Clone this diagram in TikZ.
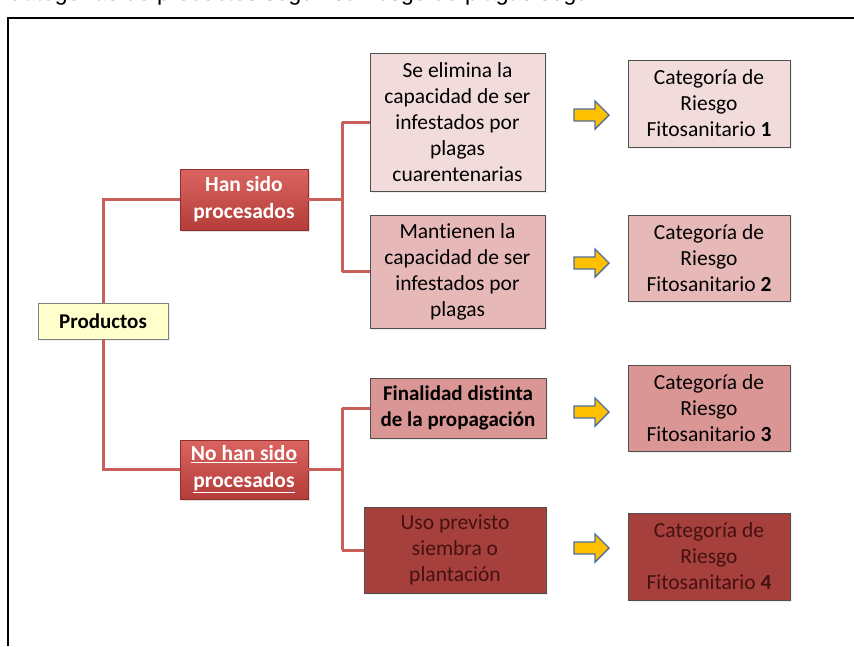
\documentclass[tikz,border=0pt]{standalone}
\usepackage{fontspec}
\setmainfont[Ligatures={NoCommon}]{Carlito}
\newfontfamily\arialfont{Liberation Sans}
\usetikzlibrary{shadows}
\definecolor{linkred}{HTML}{C95E5B}
\definecolor{pinkA}{HTML}{F2DCDB}
\definecolor{pinkB}{HTML}{E6B9B8}
\definecolor{pinkC}{HTML}{D99694}
\definecolor{redD}{HTML}{A6403D}
\definecolor{darktxt}{HTML}{451110}
\definecolor{boxborder}{HTML}{505050}
\definecolor{prodfill}{HTML}{FFFFCC}
\definecolor{redtop}{HTML}{DA6560}
\definecolor{redbot}{HTML}{B43C39}
\definecolor{arrowfill}{HTML}{FFC000}
\definecolor{arrowdraw}{HTML}{4F6E9A}
\tikzset{
  box/.style={draw=boxborder, line width=0.9pt, align=center, inner sep=1pt,
    font=\fontsize{21.5}{26}\selectfont, drop shadow={opacity=0.12, shadow xshift=2pt, shadow yshift=-2pt}},
  redbox/.style={draw=redbot!80!black, line width=0.6pt, top color=redtop, bottom color=redbot,
    text=white, align=center, font=\bfseries\fontsize{21.5}{27}\selectfont, inner sep=1pt,
    minimum width=128pt, drop shadow={opacity=0.25, shadow xshift=2pt, shadow yshift=-2pt}},
  link/.style={draw=linkred, line width=3pt},
  fatarrow/.pic={\draw[fill=arrowfill, draw=arrowdraw, line width=1.4pt, line join=miter]
    (-17,-6) -- (4,-6) -- (4,-14) -- (18,0) -- (4,14) -- (4,6) -- (-17,6) -- cycle;}
}
\begin{document}
\begin{tikzpicture}[x=1pt,y=-1pt]
\useasboundingbox (0,0) rectangle (854,646);
% title line, cut by the top edge
\node[anchor=base west, inner sep=0pt, font=\arialfont\fontsize{23}{23}\selectfont] (title) at (6,0)
  {Categorías de productos según su riesgo de plagas según};
% frame
\draw[line width=2pt] (8,646) -- (8,18) -- (854,18);

% nodes
\node[box, fill=prodfill, draw=gray, font=\bfseries\fontsize{21}{24}\selectfont,
  minimum width=130pt, minimum height=36pt] (prod) at (103,321) {Productos};
\node[redbox, minimum height=61pt] (han) at (244,199.5) {Han sido\\procesados};
\node[redbox, minimum height=59pt] (nohan) at (244,469.5) {\underline{No han sido}\\\underline{procesados}};

\node[box, fill=pinkA, minimum width=175pt, minimum height=138pt] (b1) at (457.5,122)
  {Se elimina la\\capacidad de ser\\infestados por\\plagas\\cuarentenarias};
\node[box, fill=pinkB, minimum width=175pt, minimum height=113pt] (b2) at (457.5,271.5)
  {Mantienen la\\capacidad de ser\\infestados por\\plagas};
\node[box, fill=pinkC, minimum width=176pt, minimum height=60pt, font=\bfseries\fontsize{21}{26}\selectfont] (b3) at (458,408)
  {Finalidad distinta\\de la propagación};
\node[box, fill=redD, text=darktxt, minimum width=182pt, minimum height=86pt] (b4) at (455,550)
  {Uso previsto\\siembra o\\plantación};

\node[box, fill=pinkA, minimum width=162pt, minimum height=87pt] (c1) at (709,103.5)
  {Categoría de\\Riesgo\\Fitosanitario \textbf{1}};
\node[box, fill=pinkB, minimum width=162pt, minimum height=86pt] (c2) at (709,258)
  {Categoría de\\Riesgo\\Fitosanitario \textbf{2}};
\node[box, fill=pinkC, minimum width=162pt, minimum height=86pt] (c3) at (709,408)
  {Categoría de\\Riesgo\\Fitosanitario \textbf{3}};
\node[box, fill=redD, text=darktxt, minimum width=162pt, minimum height=87pt] (c4) at (709,556.5)
  {Categoría de\\Riesgo\\Fitosanitario \textbf{4}};

% arrows
\pic at (591,115) {fatarrow};
\pic at (591,263) {fatarrow};
\pic at (591,412) {fatarrow};
\pic at (591,548) {fatarrow};

% connectors
\coordinate (j1) at (342,199.5);
\coordinate (j2) at (342,469.5);
\draw[link] (prod.north) |- (han.west);
\draw[link] (prod.south) |- (nohan.west);
\draw[link] (han.east) -- (j1);
\draw[link] (j1 |- b1.west) -- (j1 |- b2.west);
\draw[link] (j1 |- b1.west) -- (b1.west);
\draw[link] (j1 |- b2.west) -- (b2.west);
\draw[link] (nohan.east) -- (j2);
\draw[link] (j2 |- b3.west) -- (j2 |- b4.west);
\draw[link] (j2 |- b3.west) -- (b3.west);
\draw[link] (j2 |- b4.west) -- (b4.west);
\end{tikzpicture}
\end{document}
